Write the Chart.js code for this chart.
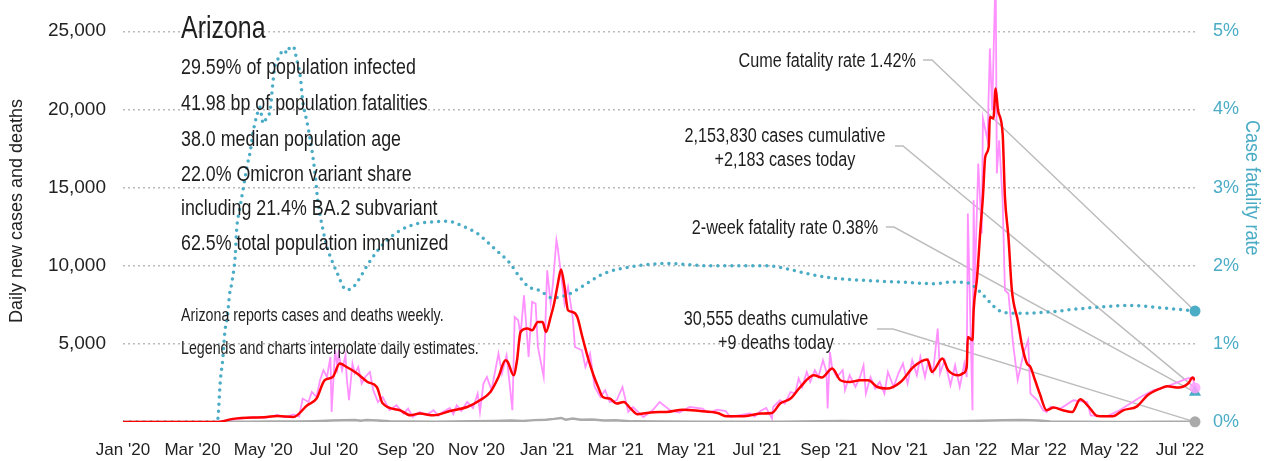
<!DOCTYPE html>
<html>
<head>
<meta charset="utf-8">
<script src="https://cdn.jsdelivr.net/npm/chart.js@4.4.1/dist/chart.umd.min.js"></script>
<style>
  html, body { margin: 0; padding: 0; background: #fff; }
  #wrap { position: relative; width: 1281px; height: 461px; overflow: hidden; }
  #chart { position: absolute; left: 0; top: 0; }
  .t { position: absolute; font-family: "Liberation Sans", Arial, sans-serif; color: #1e1e1e;
       white-space: nowrap; line-height: 1; transform-origin: left center;
       transform: translateY(-50%) scaleX(0.81); }
  .r { text-align: right; transform-origin: right center; }
  .c { text-align: center; transform-origin: center center; line-height: 1.2;
       transform: translate(-50%, -50%) scaleX(0.81); }
  #rtitle { position: absolute; left: 1243px; top: 120px; writing-mode: vertical-rl; font-size: 21px;
            line-height: 1; color: rgb(75,172,198); white-space: nowrap; transform-origin: center top;
            transform: scaleY(0.86); font-family: "Liberation Sans", Arial, sans-serif; }
</style>
</head>
<body>
<div id="wrap">
  <canvas id="chart" width="1281" height="461"></canvas>

  <div class="t" style="left:181px; top:27px; font-size:32px; transform: translateY(-50%) scaleX(0.78);">Arizona</div>
  <div class="t" style="left:181px; top:67px; font-size:22px;">29.59% of population infected</div>
  <div class="t" style="left:181px; top:103px; font-size:22px;">41.98 bp of population fatalities</div>
  <div class="t" style="left:181px; top:139px; font-size:22px;">38.0 median population age</div>
  <div class="t" style="left:181px; top:174px; font-size:22px;">22.0% Omicron variant share</div>
  <div class="t" style="left:181px; top:208px; font-size:22px;">including 21.4% BA.2 subvariant</div>
  <div class="t" style="left:181px; top:243px; font-size:22px;">62.5% total population immunized</div>
  <div class="t" style="left:181px; top:315px; font-size:18.5px; transform: translateY(-50%) scaleX(0.77);">Arizona reports cases and deaths weekly.</div>
  <div class="t" style="left:181px; top:347.5px; font-size:18.5px; transform: translateY(-50%) scaleX(0.77);">Legends and charts interpolate daily estimates.</div>

  <div class="t r" style="right:365px; top:60px; font-size:20px;">Cume fatality rate 1.42%</div>
  <div class="t c" style="left:785px; top:146.5px; font-size:20px;">2,153,830 cases cumulative<br>+2,183 cases today</div>
  <div class="t r" style="right:403px; top:226.5px; font-size:20px;">2-week fatality rate 0.38%</div>
  <div class="t c" style="left:776px; top:329.5px; font-size:20px;">30,555 deaths cumulative<br>+9 deaths today</div>

  <div id="rtitle">Case fatality rate</div>
</div>

<script>
// days counted from 1 Jan 2020
const tickDays = [0, 60, 121, 182, 244, 305, 366, 425, 486, 547, 609, 670, 731, 790, 851, 912];
const tickLabels = ["Jan '20", "Mar '20", "May '20", "Jul '20", "Sep '20", "Nov '20", "Jan '21", "Mar '21",
                    "May '21", "Jul '21", "Sep '21", "Nov '21", "Jan '22", "Mar '22", "May '22", "Jul '22"];
const leftTicks = [5000, 10000, 15000, 20000, 25000];
const rightTicks = [0, 1, 2, 3, 4, 5];
const lastDay = 925;

// daily new cases (weekly reports, interpolated)
const dailyDay = [0,81,95,110,124,133,140,147,152,
  155,160,163,167,170,173,176,179,180,183,185,186,189,192,193,195,198,200,203,206,209,213,216,220,224,230,236,242,246,
  250,256,262,268,272,276,282,285,288,292,297,302,306,
  308,311,314,318,324,327,331,336,338,341,343,346,350,353,356,358,363,366,369,371,374,375,379,381,384,388,390,396,399,
  403,407,412,416,420,426,431,436,440,449,457,463,
  472,480,489,500,505,513,520,524,530,541,545,550,555,560,
  561,567,571,576,580,583,586,590,593,597,600,604,607,608,610,612,616,621,623,627,632,636,639,641,645,649,653,657,660,
  665,669,673,677,681,685,688,692,695,699,703,705,709,714,718,722,726,728,
  729,733,734,735,738,741,742,746,748,750,753,754,756,759,761,764,768,772,777,781,783,789,794,797,800,809,820,832,835,
  849,860,878,889,901,918,923,925];
const dailyCases = [0,0,150,300,280,450,300,480,350,
  1500,1280,1920,1600,2670,3310,2880,4160,640,4590,3520,4380,3310,4270,2880,1390,3740,3100,3520,2460,2880,3200,2030,
  1280,1600,750,1070,540,860,
  320,640,450,750,400,640,900,500,1070,700,1280,900,1820,
  640,2460,2880,2030,4380,3100,4270,750,6720,6510,5550,8110,4160,7680,7580,4800,2880,9710,7580,8860,11630,11200,8860,
  7580,8640,6720,4800,4590,3520,4380,2240,1600,2030,1280,1390,2240,640,960,320,750,1280,
  750,600,960,850,600,790,700,320,400,540,350,700,900,220,
  960,1390,1180,1920,1820,2780,2240,3200,2560,3310,2880,3950,3200,860,4480,3420,2880,3310,2030,2990,2240,2880,3630,
  1820,2880,2140,2560,1820,3200,2240,3100,3740,2460,3950,2990,4160,2880,3950,3200,5980,3100,3950,2350,3630,2240,3740,2880,
  13340,750,14190,8860,16540,12060,19420,18030,23900,19950,29000,15900,18030,14190,8430,8220,5020,2670,4380,5230,1820,
  1390,750,640,960,860,1390,1280,430,360,750,1600,2030,2280,2780,2840,2183];

// 7-day average of new cases
const avgDay = [0,81,95,124,133,147,159,167,174,181,187,193,202,211,219,224,239,248,256,268,282,297,308,317,324,330,332,337,
  340,343,349,353,358,362,365,369,372,375,378,381,384,388,392,396,401,406,410,414,420,426,432,438,444,452,463,469,483,498,513,
  521,535,550,560,567,576,584,596,603,612,619,627,636,643,651,659,671,682,694,698,707,712,721,725,728,729,733,734,737,740,742,
  744,747,748,751,753,755,759,761,764,767,772,776,780,783,787,791,797,803,811,819,826,833,841,854,863,875,884,895,901,911,919,
  923,925];
const avgCases = [0,0,200,320,380,320,1070,1500,2670,2880,3740,3520,3110,2560,2240,1200,750,430,540,430,700,960,1390,1920,
  2880,3950,3840,2990,3950,5760,5980,5870,6400,6400,5760,6720,7580,8750,9750,8640,7150,7040,6720,5550,4160,2990,2240,1600,1500,
  1180,1280,860,490,580,640,640,790,700,580,360,360,540,580,1180,1500,2200,2990,2840,3420,2670,2560,2670,2670,2240,2140,2560,
  3520,4000,3200,4060,3310,2990,3120,3520,5440,5230,7150,9280,12480,14400,16960,17600,19520,19420,21340,19950,18460,14400,
  11840,8430,6510,4800,3740,3520,2670,1820,750,920,750,640,1450,1000,380,360,750,1000,1710,2140,2280,2200,2460,2840,2670];

// daily deaths
const deathDay = [0,80,90,110,130,150,165,180,190,200,205,210,220,230,245,270,300,320,335,345,355,365,372,378,382,388,395,
  405,415,425,440,460,500,540,570,600,620,640,660,690,720,740,760,775,790,800,820,860,900,925];
const deaths = [0,0,10,20,25,30,50,90,110,130,80,120,90,50,30,20,40,60,90,70,120,150,200,260,150,230,140,160,90,110,40,30,
  15,10,20,40,60,50,70,60,50,80,110,130,90,30,10,5,8,9];

// case fatality rate, %
const cfrDay = [0,81,82,84,86,88,90,92,94,97,98,101,104,107,110,112,116,118,121,124,127,129,131,135,138,142,144,147,150,153,
  155,159,163,166,168,172,176,179,185,190,193,199,205,211,219,228,239,254,268,280,291,306,319,325,334,341,350,360,370,380,388,
  400,412,423,440,457,469,504,556,573,590,613,642,671,699,715,729,737,745,752,760,775,800,826,869,897,925];
const cfr = [0,0,0.06,0.53,0.79,1.17,1.34,1.64,1.79,2.16,2.45,2.75,3.01,3.27,3.48,3.69,3.95,4.03,3.82,3.9,3.99,4.29,4.55,
  4.67,4.76,4.72,4.8,4.8,4.63,4.42,4.12,3.82,3.48,3.14,2.84,2.5,2.24,2.11,1.9,1.73,1.69,1.73,1.86,2.01,2.18,2.33,2.45,2.54,
  2.56,2.57,2.52,2.41,2.24,2.16,2.03,1.88,1.73,1.68,1.59,1.61,1.66,1.77,1.88,1.94,1.99,2.02,2.03,2.0,2.0,1.96,1.9,1.84,1.81,
  1.79,1.77,1.79,1.78,1.7,1.58,1.47,1.4,1.39,1.41,1.45,1.49,1.46,1.42];

// latest values shown by the end markers
const cumeCfr = 1.42;
const twoWeekCfr = 0.38;
const casesToday = 2183;
const deathsToday = 9;

const TEAL = 'rgb(75,172,198)';
const PINK = 'rgb(255,145,255)';
const FONT = '"Liberation Sans", Arial, sans-serif';

const pts = (xs, ys) => xs.map((d, i) => ({ x: d, y: ys[i] }));
const noPad = s => { s.paddingTop = 0; s.paddingBottom = 0; s.paddingLeft = 0; s.paddingRight = 0; };

// leader lines from each label to its end marker
const leaders = {
  id: 'leaders',
  beforeDatasetsDraw(chart) {
    const { ctx, scales } = chart;
    const ex = scales.x.getPixelForValue(lastDay);
    const lines = [
      [923, 932, 60, scales.y2.getPixelForValue(cumeCfr)],
      [895, 903, 146, scales.y.getPixelForValue(casesToday)],
      [886, 894, 227, scales.y2.getPixelForValue(twoWeekCfr)],
      [877, 893, 329, scales.y.getPixelForValue(deathsToday)],
    ];
    ctx.save();
    ctx.strokeStyle = '#bdbdbd';
    ctx.lineWidth = 1.5;
    lines.forEach(([x0, x1, yy, ty]) => {
      ctx.beginPath();
      ctx.moveTo(x0, yy);
      ctx.lineTo(x1, yy);
      ctx.lineTo(ex, ty);
      ctx.stroke();
    });
    ctx.restore();
  }
};

new Chart(document.getElementById('chart'), {
  type: 'line',
  data: {
    datasets: [
      { data: [{ x: lastDay, y: cumeCfr }], yAxisID: 'y2', showLine: false, pointRadius: 5.5,
        pointBackgroundColor: TEAL, pointBorderWidth: 0, clip: false, order: 0 },
      { data: [{ x: lastDay, y: casesToday }], yAxisID: 'y', showLine: false, pointRadius: 5.5,
        pointBackgroundColor: 'rgba(255,160,255,0.85)', pointBorderWidth: 0, clip: false, order: 0 },
      { data: [{ x: lastDay, y: twoWeekCfr }], yAxisID: 'y2', showLine: false, pointRadius: 7,
        pointStyle: 'triangle', pointBackgroundColor: TEAL, pointBorderWidth: 0, clip: false, order: 0 },
      { data: [{ x: lastDay, y: deathsToday }], yAxisID: 'y', showLine: false, pointRadius: 5.5,
        pointBackgroundColor: '#aaa', pointBorderWidth: 0, clip: false, order: 0 },
      { data: pts(avgDay, avgCases), yAxisID: 'y', borderColor: '#ff0000', borderWidth: 2.5,
        pointRadius: 0, cubicInterpolationMode: 'monotone', order: 1 },
      { data: pts(cfrDay, cfr), yAxisID: 'y2', borderColor: TEAL, borderWidth: 3.5, borderDash: [0, 7],
        borderCapStyle: 'round', pointRadius: 0, cubicInterpolationMode: 'monotone', order: 2 },
      { data: pts(deathDay, deaths), yAxisID: 'y', borderColor: '#aaa', borderWidth: 2.5,
        pointRadius: 0, order: 3 },
      { data: pts(dailyDay, dailyCases), yAxisID: 'y', borderColor: PINK, borderWidth: 1.8,
        pointRadius: 0, order: 4 },
    ]
  },
  options: {
    responsive: false,
    animation: false,
    events: [],
    layout: { padding: 0, autoPadding: false },
    plugins: { legend: { display: false }, tooltip: { enabled: false } },
    scales: {
      x: {
        type: 'linear', min: 0, max: lastDay,
        grid: { display: false }, border: { display: false },
        afterBuildTicks: s => { s.ticks = tickDays.map(v => ({ value: v })); },
        afterFit: s => { s.height = 39; noPad(s); },
        ticks: { autoSkip: false, maxRotation: 0, padding: 10, color: '#222',
                 font: { family: FONT, size: 17 }, callback: (v, i) => tickLabels[i] }
      },
      y: {
        position: 'left', min: 0, max: 27000,
        grid: { color: '#bbb', lineWidth: 1.5, drawTicks: false },
        border: { display: false, dash: [2, 3] },
        afterBuildTicks: s => { s.ticks = leftTicks.map(v => ({ value: v })); },
        afterFit: s => { s.width = 123; noPad(s); },
        ticks: { padding: 17, color: '#222', font: { family: FONT, size: 19 },
                 callback: v => v.toLocaleString('en-US') },
        title: { display: true, text: 'Daily new cases and deaths', color: '#222',
                 font: { family: FONT, size: 18 }, padding: { top: 6, bottom: 0 } }
      },
      y2: {
        position: 'right', min: 0, max: 5.4,
        grid: { display: false, drawTicks: false }, border: { display: false },
        afterBuildTicks: s => { s.ticks = rightTicks.map(v => ({ value: v })); },
        afterFit: s => { s.width = 86; noPad(s); },
        ticks: { padding: 18, color: TEAL, font: { family: FONT, size: 18 }, callback: v => v + '%' }
      }
    }
  },
  plugins: [leaders]
});
</script>
</body>
</html>
